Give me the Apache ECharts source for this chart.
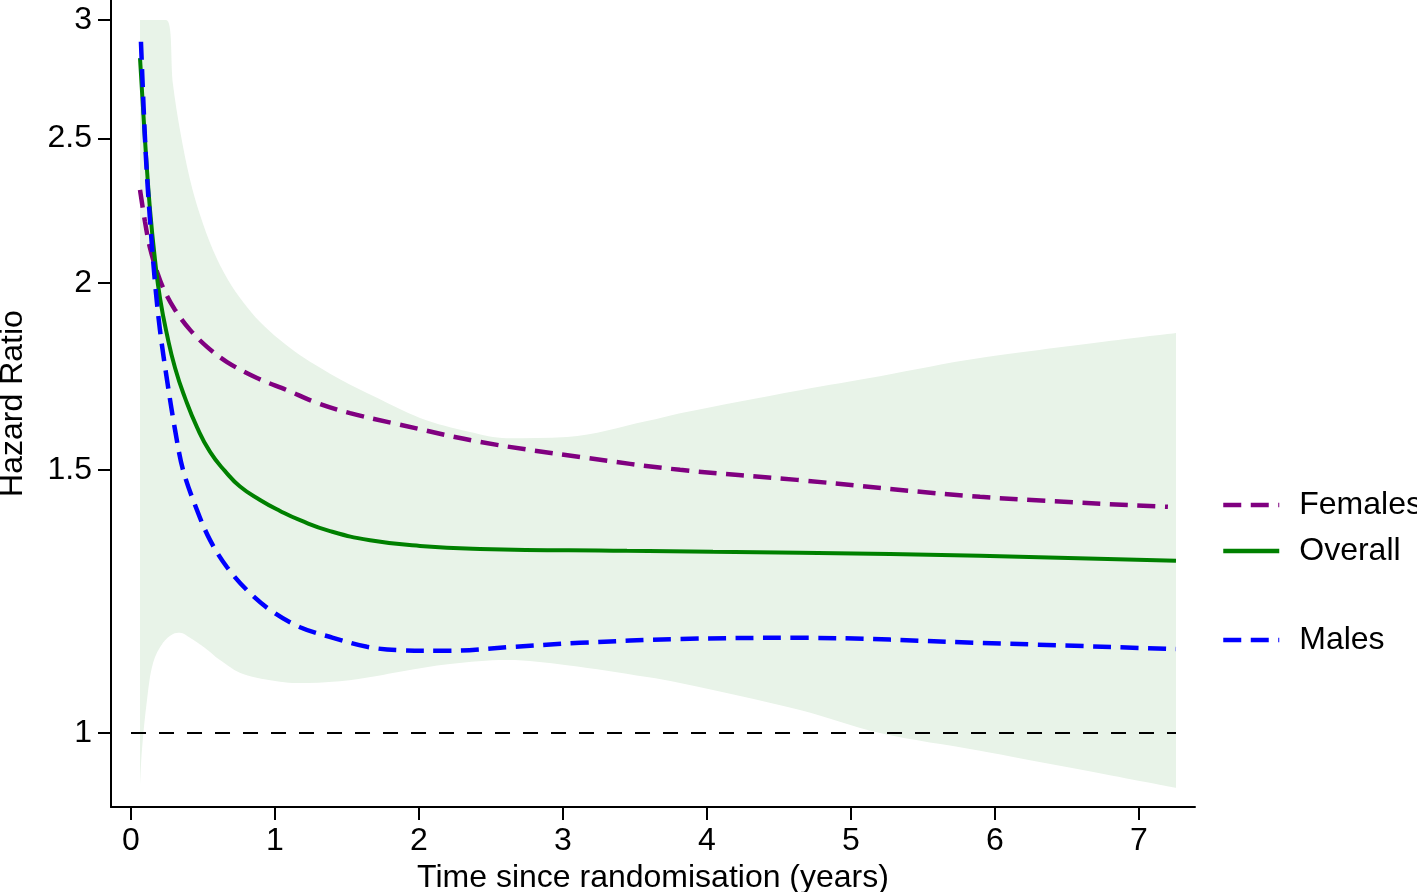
<!DOCTYPE html>
<html><head><meta charset="utf-8">
<script src="https://cdn.jsdelivr.net/npm/echarts@6/dist/echarts.min.js"></script>
<style>html,body{margin:0;padding:0;background:#fff}#c{width:1417px;height:892px}</style>
</head><body><div id="c"></div>
<script>
// Tick labels
const yTicks = [1, 1.5, 2, 2.5, 3];
const xTicks = [0, 1, 2, 3, 4, 5, 6, 7];

// Overall (green solid)
const overallT  = [0.0625, 0.0833, 0.104, 0.132, 0.1667, 0.201, 0.25, 0.306, 0.375, 0.458, 0.549, 0.653, 0.757, 0.896, 1.035, 1.174, 1.382, 1.660, 2.007, 2.424, 3.444, 4.042, 4.646, 5.896, 7.257];
const overallHR = [2.829, 2.620, 2.437, 2.239, 2.073, 1.955, 1.847, 1.755, 1.676, 1.602, 1.542, 1.497, 1.462, 1.432, 1.408, 1.388, 1.365, 1.346, 1.334, 1.328, 1.324, 1.322, 1.320, 1.314, 1.304];

// Females (purple dashed)
const femalesT  = [0.0625, 0.0972, 0.132, 0.181, 0.236, 0.306, 0.410, 0.528, 0.667, 0.875, 1.083, 1.292, 1.521, 1.819, 2.424, 3.118, 3.813, 4.625, 5.896, 7.201];
const femalesHR = [2.309, 2.198, 2.111, 2.035, 1.973, 1.919, 1.861, 1.813, 1.771, 1.728, 1.696, 1.663, 1.637, 1.612, 1.566, 1.530, 1.500, 1.477, 1.439, 1.417];

// Males (blue dashed)
const malesT  = [0.069, 0.102, 0.132, 0.167, 0.201, 0.25, 0.306, 0.361, 0.458, 0.549, 0.667, 0.806, 0.965, 1.174, 1.403, 1.639, 1.868, 2.194, 2.653, 3.118, 3.813, 4.646, 5.896, 7.257];
const malesHR = [2.901, 2.444, 2.204, 2.0, 1.861, 1.723, 1.595, 1.500, 1.410, 1.346, 1.291, 1.246, 1.209, 1.177, 1.158, 1.142, 1.136, 1.135, 1.142, 1.149, 1.156, 1.158, 1.149, 1.138];

// Confidence band (overall): upper and lower limits
const bandHighT = [0.0625, 0.243, 0.292, 0.340, 0.410, 0.479, 0.569, 0.674, 0.778, 0.896, 1.035, 1.174, 1.451, 1.708, 2.007, 2.354, 2.611, 3.028, 3.583, 3.813, 4.646, 5.201, 5.896, 7.257];
const bandHigh  = [3.0, 3.0, 2.714, 2.532, 2.345, 2.222, 2.105, 2.010, 1.943, 1.884, 1.832, 1.790, 1.725, 1.676, 1.625, 1.590, 1.575, 1.578, 1.617, 1.637, 1.696, 1.733, 1.782, 1.852];
const bandLowT  = [0.0625, 0.076, 0.111, 0.153, 0.222, 0.292, 0.340, 0.410, 0.514, 0.618, 0.778, 1.035, 1.153, 1.451, 1.708, 1.868, 2.215, 2.611, 3.028, 3.583, 3.813, 4.646, 5.201, 5.896, 7.257];
const bandLow   = [0.920, 0.974, 1.052, 1.114, 1.149, 1.165, 1.167, 1.158, 1.140, 1.119, 1.095, 1.082, 1.080, 1.083, 1.092, 1.099, 1.112, 1.119, 1.110, 1.090, 1.080, 1.036, 1.0, 0.973, 0.919];

// Reference line
const refT = [0, 7.257];
const refHR = [1, 1];

const ln = Math.log;
function pts(t, hr) { return t.map((x, i) => [x, ln(hr[i])]); }

const font = '"Liberation Sans", Arial, Helvetica, sans-serif';
const legendCommon = {
  orient: 'vertical', left: 1216, itemWidth: 56, itemHeight: 14, itemGap: 14, selectedMode: false,
  itemStyle: { opacity: 0 }, lineStyle: { width: 4.5 },
  textStyle: { fontSize: 32, lineHeight: 31, color: '#000', fontFamily: font, padding: [0, 0, 0, 15] }
};
const chart = echarts.init(document.getElementById('c'));
chart.setOption({
  animation: false,
  backgroundColor: '#fff',
  grid: { left: 111, right: 222, top: 0, bottom: 85, outerBoundsMode: 'none', containLabel: false },
  xAxis: {
    type: 'value', min: -0.139, max: 7.389, z: 5,
    name: 'Time since randomisation (years)', nameLocation: 'middle', nameGap: 50,
    nameTextStyle: { fontSize: 32, color: '#000', fontFamily: font },
    axisLine: { show: true, onZero: false, lineStyle: { color: '#000', width: 2 } },
    axisTick: { show: true, length: 13, lineStyle: { color: '#000', width: 2 }, customValues: xTicks },
    axisLabel: { fontSize: 32, color: '#000', fontFamily: font, margin: 18, customValues: xTicks },
    splitLine: { show: false }
  },
  yAxis: {
    type: 'value', min: -0.1140, max: 1.1294, z: 5,
    name: 'Hazard Ratio', nameLocation: 'middle', nameGap: 82,
    nameTextStyle: { fontSize: 32, color: '#000', fontFamily: font },
    axisLine: { show: true, onZero: false, lineStyle: { color: '#000', width: 2 } },
    axisTick: { show: true, length: 13, lineStyle: { color: '#000', width: 2 }, customValues: yTicks.map(ln) },
    axisLabel: { fontSize: 32, color: '#000', fontFamily: font, margin: 19, customValues: yTicks.map(ln),
      formatter: v => String(Math.round(Math.exp(v) * 10) / 10) },
    splitLine: { show: false }
  },
  legend: [
    Object.assign({ data: ['Females', 'Overall'], top: 484 }, legendCommon),
    Object.assign({ data: ['Males'], top: 619 }, legendCommon)
  ],
  series: [
    { name: 'bandHigh', type: 'line', symbol: 'none', smooth: 0.35, silent: true, z: 1,
      lineStyle: { opacity: 0 }, areaStyle: { color: '#e8f3e8', opacity: 1, origin: 'start' },
      data: pts(bandHighT, bandHigh) },
    { name: 'bandLow', type: 'line', symbol: 'none', smooth: 0.35, silent: true, z: 1,
      lineStyle: { opacity: 0 }, areaStyle: { color: '#ffffff', opacity: 1, origin: 'start' },
      data: pts(bandLowT, bandLow) },
    { name: 'ref', type: 'line', symbol: 'none', silent: true, z: 2,
      lineStyle: { color: '#000', width: 2, type: [15, 13] }, data: pts(refT, refHR) },
    { name: 'Females', type: 'line', symbol: 'none', smooth: 0.35, color: '#800080', z: 3,
      lineStyle: { color: '#800080', width: 4.5, type: [18, 9.5] }, data: pts(femalesT, femalesHR) },
    { name: 'Overall', type: 'line', symbol: 'none', smooth: 0.5, color: '#008000', z: 3,
      lineStyle: { color: '#008000', width: 4 }, data: pts(overallT, overallHR) },
    { name: 'Males', type: 'line', symbol: 'none', smooth: 0.35, color: '#0000ff', z: 3,
      lineStyle: { color: '#0000ff', width: 4.5, type: [18, 9.5] }, data: pts(malesT, malesHR) }
  ]
});
</script></body></html>
